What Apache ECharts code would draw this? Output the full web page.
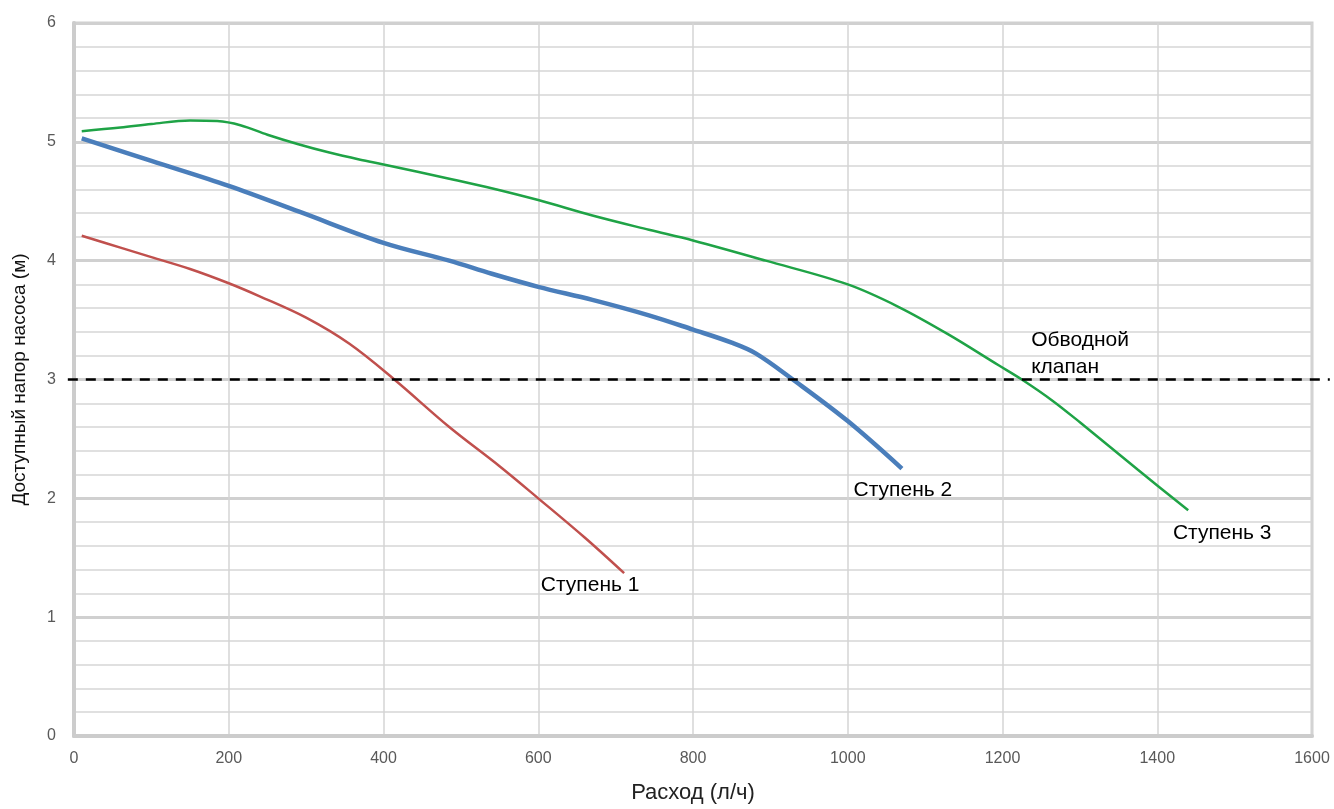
<!DOCTYPE html>
<html>
<head>
<meta charset="utf-8">
<script src="https://cdn.jsdelivr.net/npm/echarts@6/dist/echarts.min.js"></script>
<style>
html,body{margin:0;padding:0;background:#fff;}
#chart{width:1334px;height:809px;}
</style>
</head>
<body>
<div id="chart"></div>
<script>
// ---- data ----
const stage1X = [10, 60, 100, 150, 200, 240, 300, 356, 414, 485, 550, 600, 660, 711];
const stage1Y = [4.21, 4.11, 4.03, 3.93, 3.81, 3.70, 3.52, 3.30, 3.00, 2.60, 2.27, 2.00, 1.67, 1.37];

const stage2X = [10, 100, 200, 292, 400, 485, 540, 600, 670, 743, 800, 850, 881, 929, 1000, 1070];
const stage2Y = [5.03, 4.84, 4.63, 4.41, 4.15, 4.00, 3.89, 3.78, 3.67, 3.54, 3.42, 3.31, 3.22, 3.00, 2.65, 2.25];

const stage3X = [10, 60, 100, 150, 185, 215, 250, 290, 330, 370, 400, 485, 533, 600, 670, 743, 800, 894, 1000, 1066, 1130, 1195, 1225, 1265, 1300, 1375, 1440];
const stage3Y = [5.09, 5.12, 5.15, 5.18, 5.175, 5.14, 5.06, 4.98, 4.91, 4.85, 4.81, 4.69, 4.62, 4.51, 4.38, 4.26, 4.17, 4.00, 3.80, 3.61, 3.38, 3.12, 3.00, 2.82, 2.64, 2.24, 1.90];

const bypassX = [-8, 1623];
const bypassY = [3, 3];
const bypassLabelX = 1237;

const seriesNames = ['Ступень 1', 'Ступень 2', 'Ступень 3'];
const bypassName = 'Обводной\nклапан';

const xAxisTitle = 'Расход (л/ч)';
const yAxisTitle = 'Доступный напор насоса (м)';

// ---- build ----
const FONT = 'Liberation Sans, Arial, sans-serif';
function pts(xs, ys) { return xs.map((x, i) => [x, ys[i]]); }
function endMark(xs, ys, name, offset) {
  const n = xs.length - 1;
  return {
    symbol: 'circle', symbolSize: 0, silent: true,
    itemStyle: { color: 'rgba(0,0,0,0)' },
    data: [{ coord: [xs[n], ys[n]], value: name }],
    label: { show: true, position: 'inside', formatter: name, offset: offset,
             align: 'center', verticalAlign: 'middle',
             color: '#000', fontSize: 21, fontFamily: FONT }
  };
}

const chart = echarts.init(document.getElementById('chart'), null, { renderer: 'canvas' });
chart.setOption({
  animation: false,
  backgroundColor: '#fff',
  grid: { left: 74, right: 22, top: 23, bottom: 67, show: true, borderColor: '#cfcfcf', borderWidth: 3 },
  xAxis: {
    type: 'value', min: 0, max: 1600, interval: 200,
    name: xAxisTitle, nameLocation: 'middle', nameGap: 46,
    nameTextStyle: { color: '#222', fontSize: 22, fontFamily: FONT },
    axisLine: { show: true, lineStyle: { color: '#cccccc', width: 4 } },
    axisTick: { show: false },
    axisLabel: { color: '#595959', fontSize: 16, fontFamily: FONT, margin: 15, formatter: v => String(v) },
    splitLine: { show: true, lineStyle: { color: '#d4d4d4', width: 1.5 } }
  },
  yAxis: {
    type: 'value', min: 0, max: 6, interval: 1,
    name: yAxisTitle, nameLocation: 'middle', nameGap: 45,
    nameTextStyle: { color: '#111', fontSize: 19, fontFamily: FONT },
    axisLine: { show: true, lineStyle: { color: '#cccccc', width: 4 } },
    axisTick: { show: false },
    axisLabel: { color: '#595959', fontSize: 16, fontFamily: FONT, margin: 18, formatter: v => String(v) },
    splitLine: { show: true, lineStyle: { color: '#d0d0d0', width: 3 } },
    minorTick: { show: false, splitNumber: 5 },
    minorSplitLine: { show: true, lineStyle: { color: '#d6d6d6', width: 1.5 } }
  },
  series: [
    {
      name: seriesNames[0], type: 'line', smooth: 0.35, showSymbol: false, symbol: 'none', z: 3,
      data: pts(stage1X, stage1Y),
      lineStyle: { color: '#C0504D', width: 2.5 },
      markPoint: endMark(stage1X, stage1Y, seriesNames[0], [-34, 12])
    },
    {
      name: seriesNames[1], type: 'line', smooth: 0.35, showSymbol: false, symbol: 'none', z: 4,
      data: pts(stage2X, stage2Y),
      lineStyle: { color: '#4A7EBB', width: 4.5 },
      markPoint: endMark(stage2X, stage2Y, seriesNames[1], [1, 22])
    },
    {
      name: seriesNames[2], type: 'line', smooth: 0.35, showSymbol: false, symbol: 'none', z: 3,
      data: pts(stage3X, stage3Y),
      lineStyle: { color: '#1FA346', width: 2.5 },
      markPoint: endMark(stage3X, stage3Y, seriesNames[2], [34, 23])
    }
  ]
});

// bypass-valve dashed line (extends slightly beyond the plot), positioned via the axis scales
const p1 = chart.convertToPixel({ gridIndex: 0 }, [bypassX[0], bypassY[0]]);
const p2 = chart.convertToPixel({ gridIndex: 0 }, [bypassX[1], bypassY[1]]);
const pl = chart.convertToPixel({ gridIndex: 0 }, [bypassLabelX, bypassY[0]]);
chart.setOption({
  graphic: [
    { type: 'line', z: 10, silent: true,
      shape: { x1: p1[0], y1: p1[1], x2: p2[0], y2: p2[1] },
      style: { stroke: '#000', lineWidth: 2.5, lineDash: [10, 8] } },
    { type: 'text', z: 10, silent: true, x: pl[0], y: pl[1] - 26,
      style: { text: bypassName, fill: '#000', font: '21px ' + FONT, lineHeight: 27,
               align: 'left', verticalAlign: 'middle' } }
  ]
});
</script>
</body>
</html>
